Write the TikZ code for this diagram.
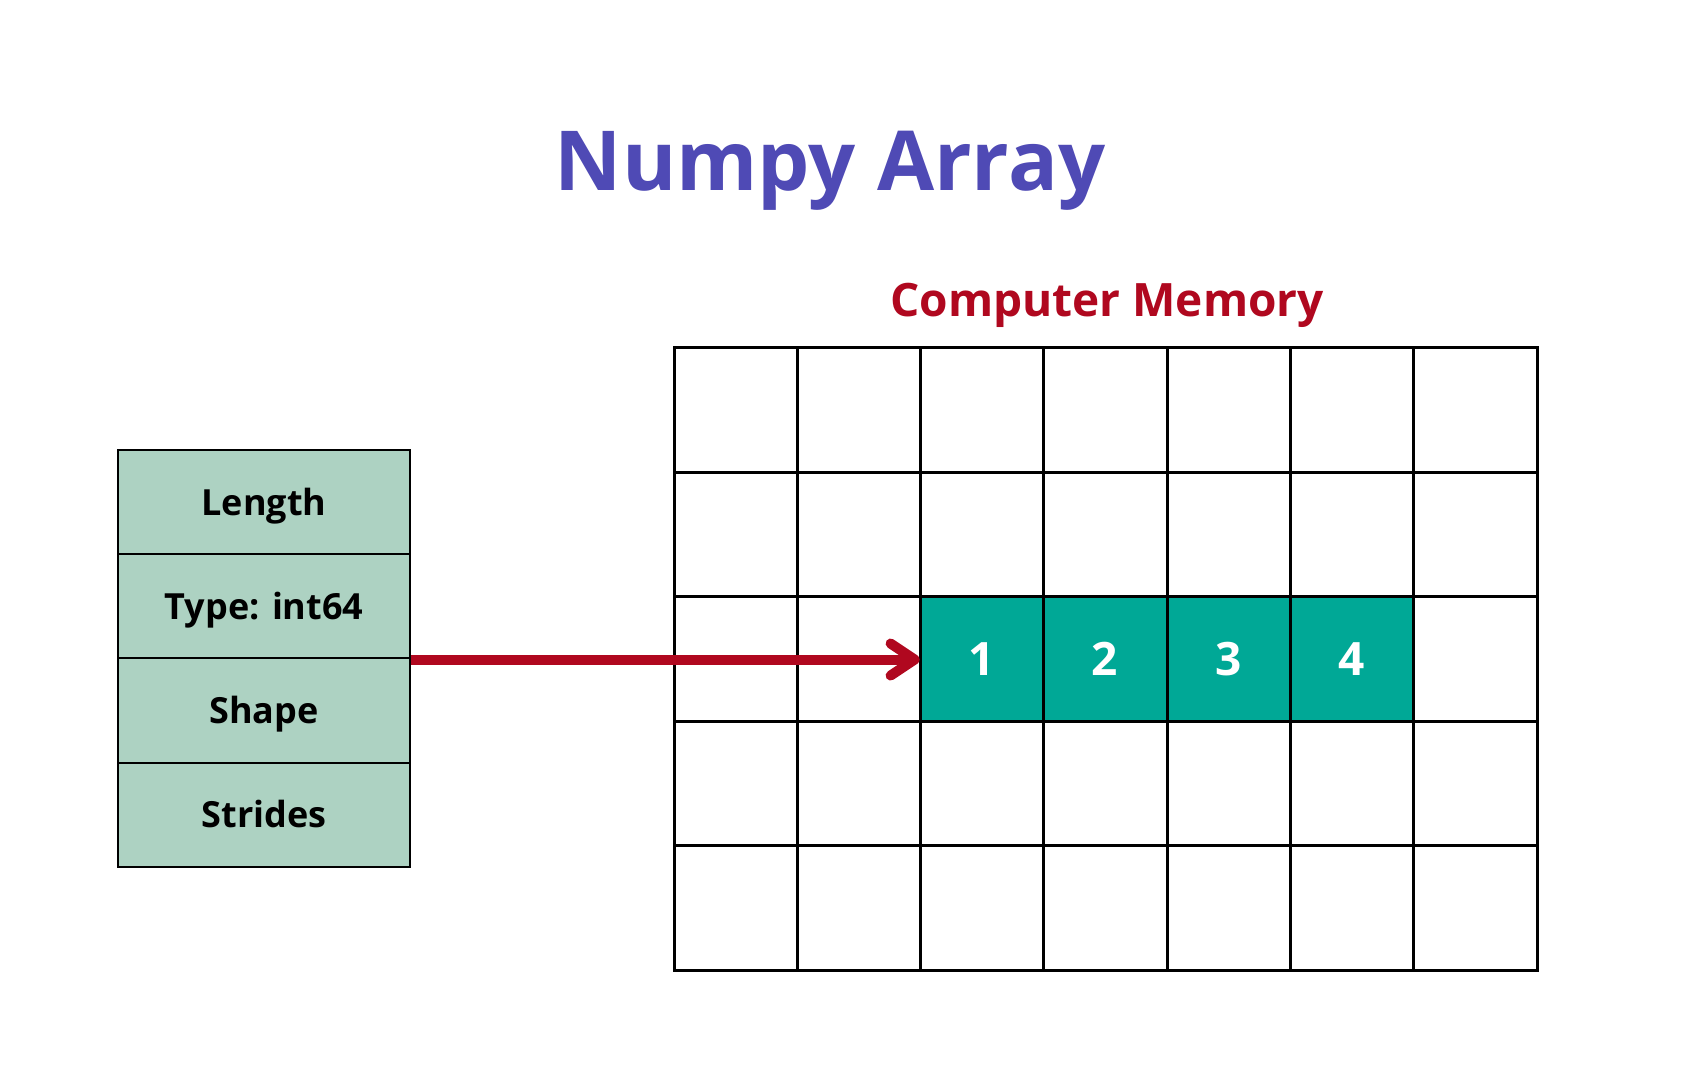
\documentclass[tikz,border=0pt]{standalone}
\usepackage{fontspec}
\setmainfont{Open Sans}
\usetikzlibrary{arrows.meta}
\definecolor{titleblue}{HTML}{4F4AB5}
\definecolor{memred}{HTML}{B0081F}
\definecolor{cellteal}{HTML}{00A896}
\definecolor{boxgreen}{HTML}{ADD2C2}
\begin{document}
\begin{tikzpicture}[x=0.5pt,y=-0.5pt,
  fieldbox/.style={draw=black,line width=1pt,fill=boxgreen,minimum width=146pt,minimum height=52.125pt,inner sep=0pt,font=\fontsize{18}{20}\selectfont\bfseries,text height=13pt,text depth=0pt},
  memcell/.style={fill=cellteal,minimum width=61.64pt,minimum height=62.2pt,inner sep=0pt,text=white,font=\fontsize{23}{25}\selectfont\bfseries,text height=16.5pt,text depth=0pt},
  gridline/.style={line width=1.5pt,draw=black,line cap=rect},
  pointer/.style={draw=memred,line width=5pt,-{Straight Barb[length=12pt,width=16pt,round]}},
  titletext/.style={font=\fontsize{41.4}{45}\selectfont\bfseries,text=titleblue,anchor=base,inner sep=0pt},
  subtitletext/.style={font=\fontsize{23}{26}\selectfont\bfseries,text=memred,anchor=base,inner sep=0pt}
]
\useasboundingbox (0,0) rectangle (1701,1080);
\fill[white] (0,0) rectangle (1701,1080);
% titles
\node[titletext] (title) at (830,191) {Numpy Array};
\node[subtitletext] (memlabel) at (1107,317) {Computer Memory};
% array header box
\node[fieldbox] (len) at (264,502.1) {Length};
\node[fieldbox] (typ) at (264,606.4) {Type: int64};
\node[fieldbox] (shp) at (264,710.6) {Shape};
\node[fieldbox] (str) at (264,814.9) {Strides};
% memory cells holding data
\foreach \k/\v in {0/1,1/2,2/3,3/4}{
  \node[memcell] (c\v) at ({920+61.64+\k*123.29},659.1) {\v};
}
% memory grid
\foreach \i in {0,...,7}{
  \draw[gridline] ({674+\i*123.29},348) -- ({674+\i*123.29},970);
}
\foreach \j in {0,...,5}{
  \draw[gridline] (674,{348+\j*124.4}) -- (1537,{348+\j*124.4});
}
% pointer
\draw[pointer] (typ.south east) -- (c1.west |- typ.south east);
\end{tikzpicture}
\end{document}
